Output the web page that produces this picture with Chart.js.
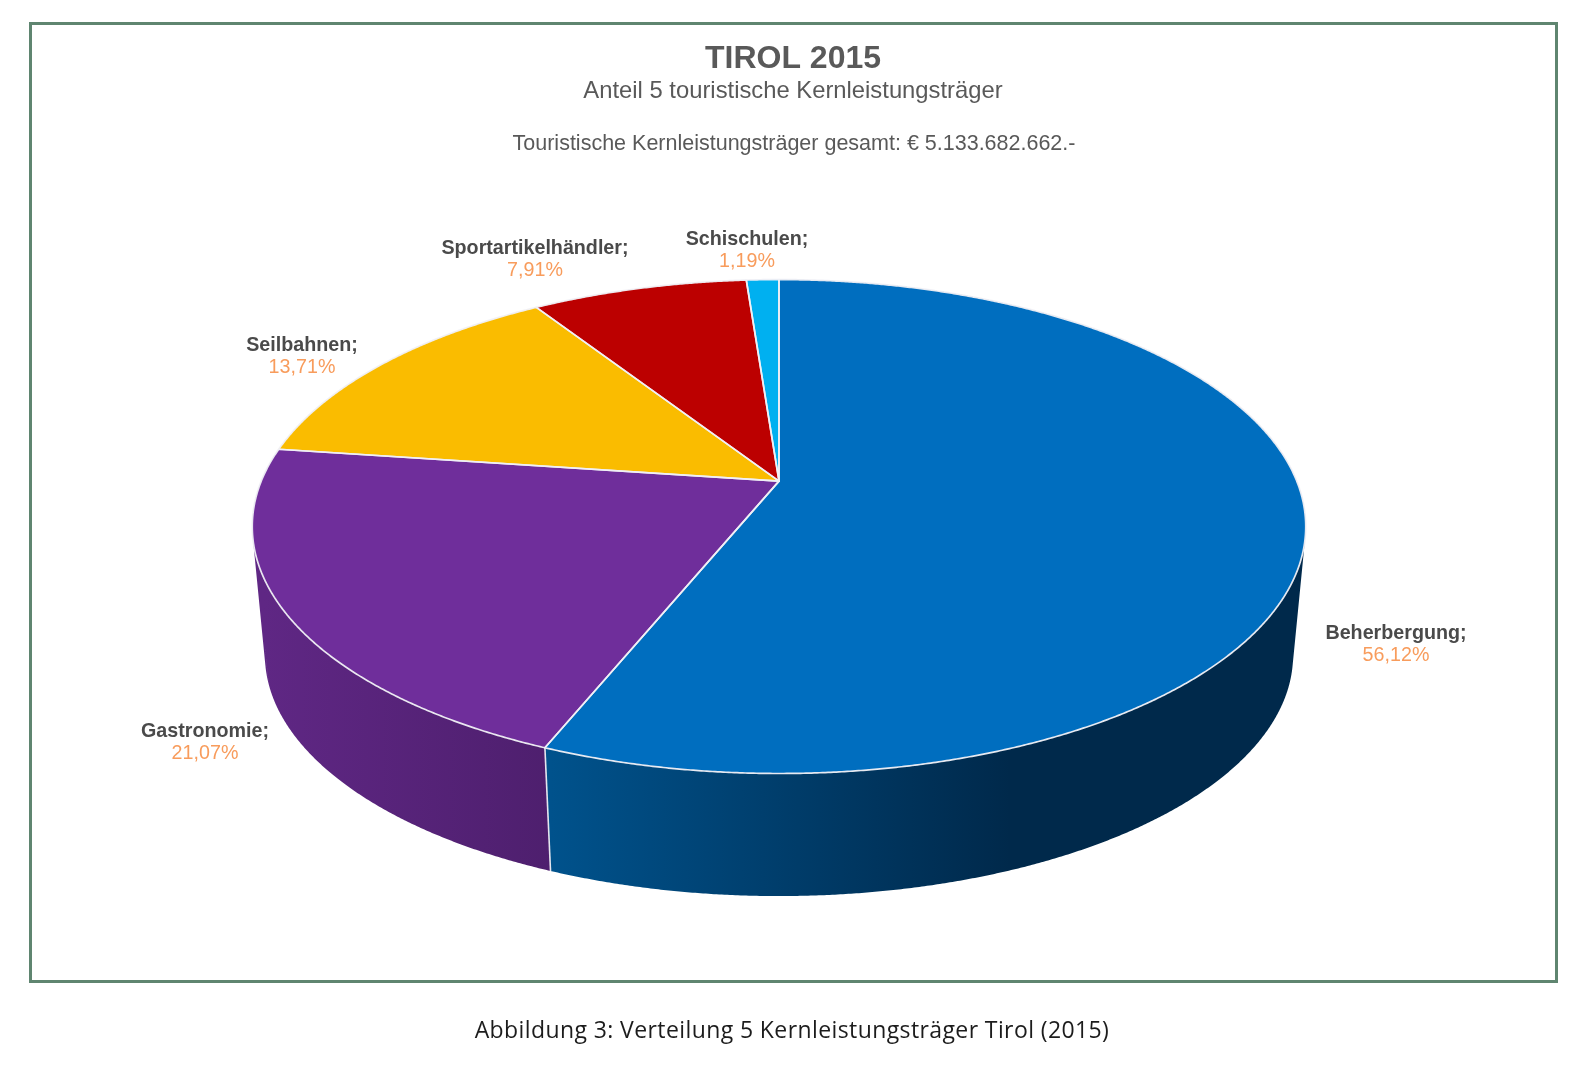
<!DOCTYPE html>
<html lang="de">
<head>
<meta charset="utf-8">
<title>TIROL 2015</title>
<script src="https://cdn.jsdelivr.net/npm/chart.js@4"></script>
<style>
html,body{margin:0;padding:0;background:#fff;width:1582px;height:1076px;overflow:hidden}
#wrap{position:relative;width:1582px;height:1076px}
canvas{position:absolute;left:0;top:0}
#frame{position:absolute;left:29px;top:22px;width:1523px;height:955px;border:3px solid #5f8570;box-sizing:content-box;pointer-events:none}
#caption{position:absolute;left:0;top:1013px;width:1582px;padding-left:2px;box-sizing:border-box;text-align:center;font:23px "Open Sans",sans-serif;color:#1c1c1c;letter-spacing:.4px}
</style>
</head>
<body>
<div id="wrap">
<div id="frame"></div>
<canvas id="c" width="1582" height="1076"></canvas>
<div id="caption">Abbildung 3: Verteilung 5 Kernleistungsträger Tirol (2015)</div>
</div>
<script>
const categories = ['Beherbergung', 'Gastronomie', 'Seilbahnen', 'Sportartikelhändler', 'Schischulen'];
const shares = [56.12, 21.07, 13.71, 7.91, 1.19];
const faceColors = ['#006EBF', '#6F2E9B', '#FABC00', '#BC0000', '#00B0F0'];
const titleText = 'TIROL 2015';
const subtitleText = 'Anteil 5 touristische Kernleistungsträger';
const totalText = 'Touristische Kernleistungsträger gesamt: € 5.133.682.662.-';

// Perspective of the tilted disc
const VIEW = {
  shiftX: -14,            // the pie sits left of the centred headings
  stretchX: 2.159, stretchY: 0.995, tilt: -0.1837,
  ellipseCentreY: 45.4,   // distance from pie apex down to the rim ellipse centre
  depth: 128.5, shrink: 0.976,
  steps: 4
};
const WALLS = [
  {from: 551, to: 1010, stops: ['#00528c', '#00294b']},
  {from: 264, to: 551, stops: ['#5f2784', '#4e1f6e']},
  null, null, null
];
const LABEL_SPOTS = [
  [1396, 634], [205, 732], [302, 346], [535, 249], [747, 240]
];

function rim(arc, angle, lower) {
  const R = arc.outerRadius, u = Math.cos(angle), v = Math.sin(angle), w = 1 + VIEW.tilt * v;
  let X = VIEW.stretchX * R * u / w, Y = VIEW.stretchY * R * v / w;
  if (lower) {
    X *= VIEW.shrink;
    Y = VIEW.ellipseCentreY + VIEW.depth + VIEW.shrink * (Y - VIEW.ellipseCentreY);
  }
  return [arc.x + VIEW.shiftX + X, arc.y + Y];
}
function arcPoints(arc, lower) {
  const n = Math.max(2, Math.ceil((arc.endAngle - arc.startAngle) * 180 / Math.PI * VIEW.steps));
  const pts = [];
  for (let i = 0; i <= n; i++) pts.push(rim(arc, arc.startAngle + (arc.endAngle - arc.startAngle) * i / n, lower));
  return pts;
}
function trace(ctx, pts, move) {
  pts.forEach((p, i) => (i === 0 && move) ? ctx.moveTo(p[0], p[1]) : ctx.lineTo(p[0], p[1]));
}
function traceWall(ctx, arc) {
  // Every quad gets the same winding, so overlaps at the silhouette stay filled.
  const top = arcPoints(arc, false), low = arcPoints(arc, true);
  for (let i = 0; i < top.length - 1; i++) {
    const q = [top[i], top[i + 1], low[i + 1], low[i]];
    let area = 0;
    q.forEach((p, k) => { const n = q[(k + 1) % 4]; area += p[0] * n[1] - n[0] * p[1]; });
    if (area < 0) q.reverse();
    trace(ctx, q, true);
    ctx.closePath();
  }
}

const pie3d = {
  id: 'pie3d',
  beforeDatasetsDraw(chart) {
    const ctx = chart.ctx, arcs = chart.getDatasetMeta(0).data;
    ctx.save();
    // side wall
    arcs.forEach((arc, i) => {
      const wall = WALLS[i];
      if (!wall) return;
      const g = ctx.createLinearGradient(wall.from, 0, wall.to, 0);
      g.addColorStop(0, wall.stops[0]);
      g.addColorStop(1, wall.stops[1]);
      ctx.beginPath();
      traceWall(ctx, arc);
      ctx.fillStyle = g;
      ctx.fill();
    });
    // seam between the two visible wall pieces
    const seam = arcs[0];
    const a = rim(seam, seam.endAngle, false), b = rim(seam, seam.endAngle, true);
    ctx.beginPath(); ctx.moveTo(a[0], a[1]); ctx.lineTo(b[0], b[1]);
    ctx.strokeStyle = '#e6e6ee'; ctx.lineWidth = 1.6; ctx.stroke();
    // top face
    const apex = a0 => [a0.x + VIEW.shiftX, a0.y];
    arcs.forEach((arc, i) => {
      ctx.beginPath();
      ctx.moveTo(...apex(arc));
      trace(ctx, arcPoints(arc, false), false);
      ctx.closePath();
      ctx.fillStyle = faceColors[i];
      ctx.fill();
    });
    arcs.forEach(arc => {
      ctx.beginPath();
      ctx.moveTo(...apex(arc));
      trace(ctx, arcPoints(arc, false), false);
      ctx.closePath();
      ctx.strokeStyle = 'rgba(240,240,245,.95)';
      ctx.lineWidth = 1.7;
      ctx.lineJoin = 'round';
      ctx.stroke();
    });
    ctx.restore();
    return false;
  },
  afterDraw(chart) {
    const ctx = chart.ctx;
    ctx.save();
    ctx.textAlign = 'center';
    ctx.textBaseline = 'middle';
    ctx.fillStyle = '#595959';
    ctx.font = '21.5px "Liberation Sans", Arial, sans-serif';
    ctx.fillText(totalText, 794, 144);
    categories.forEach((name, i) => {
      const [x, y] = LABEL_SPOTS[i];
      ctx.fillStyle = '#4a4a4a';
      ctx.font = 'bold 19.7px "Liberation Sans", Arial, sans-serif';
      ctx.fillText(name + ';', x, y);
      ctx.fillStyle = '#F89C5C';
      ctx.font = '19.7px "Liberation Sans", Arial, sans-serif';
      ctx.fillText(shares[i].toFixed(2).replace('.', ',') + '%', x, y + 22);
    });
    ctx.restore();
  }
};

new Chart(document.getElementById('c'), {
  type: 'pie',
  data: {
    labels: categories,
    datasets: [{ data: shares, backgroundColor: faceColors, borderWidth: 0 }]
  },
  plugins: [pie3d],
  options: {
    responsive: false,
    animation: false,
    layout: { padding: { top: 0, left: 4, right: 0, bottom: 355 } },
    plugins: {
      legend: { display: false },
      tooltip: { enabled: false },
      title: {
        display: true, text: titleText, color: '#595959',
        font: { family: '"Liberation Sans", Arial, sans-serif', size: 32, weight: 'bold', lineHeight: 1.2 },
        padding: { top: 40, bottom: 0 }
      },
      subtitle: {
        display: true, text: subtitleText, color: '#595959',
        font: { family: '"Liberation Sans", Arial, sans-serif', size: 23.8, weight: 'normal', lineHeight: 1.2 },
        padding: { top: -1, bottom: 135.4 }
      }
    }
  }
});
</script>
</body>
</html>
